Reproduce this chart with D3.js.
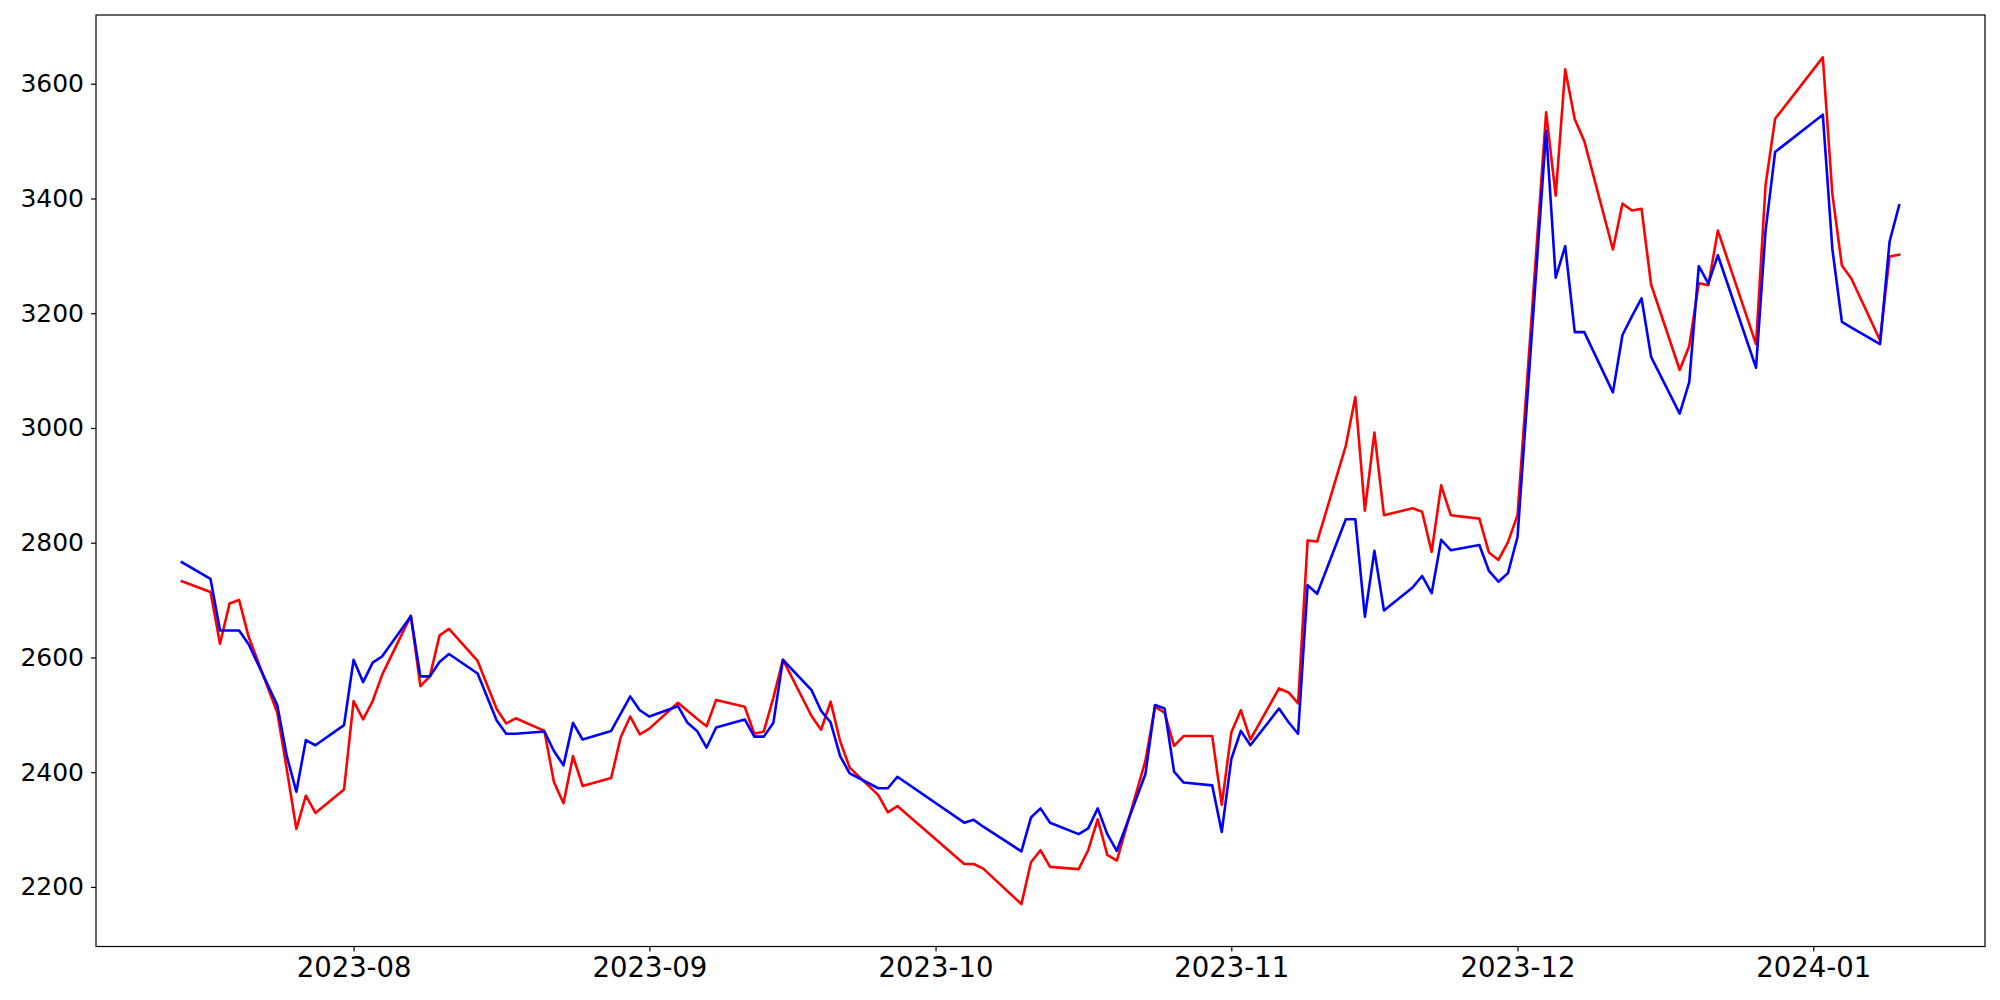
<!DOCTYPE html>
<html>
<head>
<meta charset="utf-8">
<script src="https://cdn.jsdelivr.net/npm/d3@7"></script>
<style>
  html, body { margin: 0; padding: 0; background: #ffffff; }
  svg { display: block; }
  text { font-family: "DejaVu Sans", sans-serif; fill: #000; }
</style>
</head>
<body>
<svg id="chart" width="2000" height="1000"></svg>
<script>
// ---- data (trading days, Korean market) ----
const dates = [
  "2023-07-14","2023-07-17","2023-07-18","2023-07-19","2023-07-20","2023-07-21","2023-07-24","2023-07-25","2023-07-26","2023-07-27","2023-07-28","2023-07-31",
  "2023-08-01","2023-08-02","2023-08-03","2023-08-04","2023-08-07","2023-08-08","2023-08-09","2023-08-10","2023-08-11","2023-08-14","2023-08-16","2023-08-17","2023-08-18","2023-08-21","2023-08-22","2023-08-23","2023-08-24","2023-08-25","2023-08-28","2023-08-29","2023-08-30","2023-08-31",
  "2023-09-01","2023-09-04","2023-09-05","2023-09-06","2023-09-07","2023-09-08","2023-09-11","2023-09-12","2023-09-13","2023-09-14","2023-09-15","2023-09-18","2023-09-19","2023-09-20","2023-09-21","2023-09-22","2023-09-25","2023-09-26","2023-09-27",
  "2023-10-04","2023-10-05","2023-10-06","2023-10-10","2023-10-11","2023-10-12","2023-10-13","2023-10-16","2023-10-17","2023-10-18","2023-10-19","2023-10-20","2023-10-23","2023-10-24","2023-10-25","2023-10-26","2023-10-27","2023-10-30","2023-10-31",
  "2023-11-01","2023-11-02","2023-11-03","2023-11-06","2023-11-07","2023-11-08","2023-11-09","2023-11-10","2023-11-13","2023-11-14","2023-11-15","2023-11-16","2023-11-17","2023-11-20","2023-11-21","2023-11-22","2023-11-23","2023-11-24","2023-11-27","2023-11-28","2023-11-29","2023-11-30",
  "2023-12-01","2023-12-04","2023-12-05","2023-12-06","2023-12-07","2023-12-08","2023-12-11","2023-12-12","2023-12-13","2023-12-14","2023-12-15","2023-12-18","2023-12-19","2023-12-20","2023-12-21","2023-12-22","2023-12-26","2023-12-27","2023-12-28",
  "2024-01-02","2024-01-03","2024-01-04","2024-01-05","2024-01-08","2024-01-09","2024-01-10"
];

const redValues = [
  2733, 2714, 2624, 2694, 2700, 2636, 2504, 2405, 2301, 2359, 2329, 2370,
  2524, 2492, 2524, 2570, 2673, 2550, 2567, 2638, 2650, 2594, 2510, 2485, 2494, 2472, 2383, 2346, 2428, 2376, 2390, 2461, 2497, 2466,
  2476, 2521, 2507, 2493, 2480, 2526, 2514, 2467, 2471, 2530, 2596, 2498, 2474, 2523, 2454, 2408, 2360, 2330, 2341,
  2240, 2240, 2232, 2170, 2243, 2264, 2235, 2231, 2264, 2318, 2256, 2246, 2420, 2514, 2504, 2446, 2463, 2463, 2343,
  2469, 2508, 2457, 2546, 2539, 2520, 2804, 2802, 2969, 3054, 2856, 2992, 2848, 2860, 2854, 2784, 2900, 2848, 2842, 2783, 2770, 2801,
  2848, 3550, 3405, 3625, 3538, 3500, 3311, 3391, 3379, 3382, 3250, 3101, 3143, 3252, 3249, 3344, 3146, 3423, 3539,
  3646, 3408, 3283, 3260, 3153, 3299, 3302
];

const blueValues = [
  2766, 2737, 2647, 2647, 2647, 2623, 2517, 2428, 2366, 2456, 2447, 2482,
  2596, 2557, 2591, 2602, 2672, 2567, 2567, 2592, 2606, 2572, 2490, 2467, 2467, 2471, 2437, 2412, 2486, 2457, 2472, 2502, 2532, 2508,
  2497, 2515, 2486, 2472, 2443, 2478, 2492, 2462, 2462, 2486, 2596, 2543, 2507, 2487, 2428, 2398, 2372, 2372, 2392,
  2312, 2317, 2305, 2262, 2321, 2337, 2312, 2292, 2302, 2337, 2292, 2263, 2397, 2517, 2511, 2401, 2382, 2377, 2296,
  2423, 2472, 2447, 2511, 2487, 2467, 2726, 2711, 2841, 2841, 2671, 2786, 2682, 2722, 2742, 2712, 2805, 2787, 2796, 2751, 2732, 2747,
  2810, 3518, 3262, 3317, 3167, 3167, 3062, 3162, 3195, 3226, 3124, 3025, 3080, 3282, 3252, 3301, 3105, 3344, 3481,
  3546, 3312, 3185, 3175, 3146, 3325, 3388
];

const yTickValues = [2200, 2400, 2600, 2800, 3000, 3200, 3400, 3600];
const xTickLabels = ["2023-08", "2023-09", "2023-10", "2023-11", "2023-12", "2024-01"];

const seriesColors = ["red", "blue"];

// ---- layout ----
const W = 2000, H = 1000;
const plot = { left: 96, right: 1985, top: 15, bottom: 946.5 };

const parse = d3.utcParse("%Y-%m-%d");
const parseMonth = d3.utcParse("%Y-%m");
const xDates = dates.map(parse);

// matplotlib-like 5% margins
const xMin = d3.min(xDates), xMax = d3.max(xDates);
const xPad = (xMax - xMin) * 0.05;
const allVals = redValues.concat(blueValues);
const yMinD = d3.min(allVals), yMaxD = d3.max(allVals);
const yPad = (yMaxD - yMinD) * 0.05;

const x = d3.scaleUtc()
  .domain([new Date(+xMin - xPad), new Date(+xMax + xPad)])
  .range([plot.left, plot.right]);
const y = d3.scaleLinear()
  .domain([yMinD - yPad, yMaxD + yPad])
  .range([plot.bottom, plot.top]);

const svg = d3.select("#chart");
svg.append("rect").attr("x", 0).attr("y", 0).attr("width", W).attr("height", H).attr("fill", "#fff");

// clip for lines
svg.append("clipPath").attr("id", "clip")
  .append("rect")
  .attr("x", plot.left).attr("y", plot.top)
  .attr("width", plot.right - plot.left).attr("height", plot.bottom - plot.top);

const line = d3.line()
  .x((d, i) => x(xDates[i]))
  .y(d => y(d));

const seriesList = [redValues, blueValues];
seriesList.forEach((vals, k) => {
  svg.append("path")
    .datum(vals)
    .attr("clip-path", "url(#clip)")
    .attr("fill", "none")
    .attr("stroke", seriesColors[k])
    .attr("stroke-width", 2.6)
    .attr("stroke-linejoin", "round")
    .attr("stroke-linecap", "square")
    .attr("d", line);
});

// axes
const xAxis = d3.axisBottom(x)
  .tickValues(xTickLabels.map(parseMonth))
  .tickFormat(d3.utcFormat("%Y-%m"))
  .tickSize(5)
  .tickPadding(6);
const gx = svg.append("g")
  .attr("transform", `translate(0,${plot.bottom})`)
  .call(xAxis);
gx.select(".domain").remove();
gx.selectAll(".tick line").attr("stroke", "#000").attr("stroke-width", 1.2);
gx.selectAll(".tick text")
  .attr("font-family", "DejaVu Sans, sans-serif")
  .attr("font-size", 27.5)
  .attr("fill", "#000");

const yAxis = d3.axisLeft(y)
  .tickValues(yTickValues)
  .tickFormat(d3.format("d"))
  .tickSize(5)
  .tickPadding(7);
const gy = svg.append("g")
  .attr("transform", `translate(${plot.left},0)`)
  .call(yAxis);
gy.select(".domain").remove();
gy.selectAll(".tick line").attr("stroke", "#000").attr("stroke-width", 1.2);
gy.selectAll(".tick text")
  .attr("font-family", "DejaVu Sans, sans-serif")
  .attr("font-size", 25)
  .attr("fill", "#000");

// frame
svg.append("rect")
  .attr("x", plot.left).attr("y", plot.top)
  .attr("width", plot.right - plot.left).attr("height", plot.bottom - plot.top)
  .attr("fill", "none").attr("stroke", "#000").attr("stroke-width", 1.2);
</script>
</body>
</html>
